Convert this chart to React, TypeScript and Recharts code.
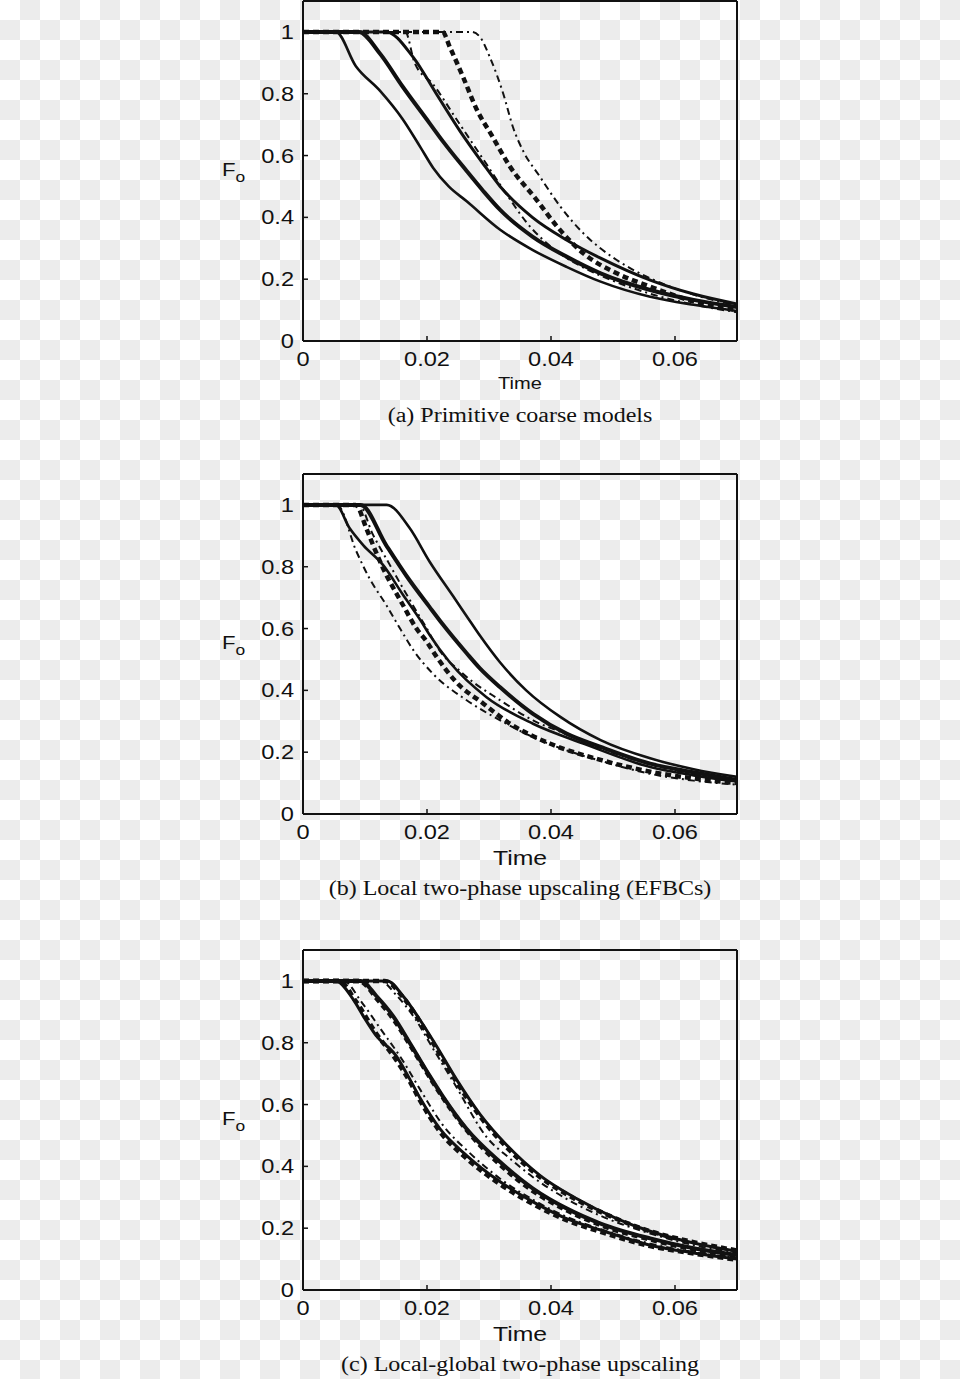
import React from "react";
import { LineChart, Line, XAxis, YAxis, Label } from "recharts";

type Pt = [number, number];

const timeTicks = [0, 0.02, 0.04, 0.06];
const topTicks = [0.02, 0.04, 0.06];
const foTicks = [0, 0.2, 0.4, 0.6, 0.8, 1];
const sideTicks = [0.2, 0.4, 0.6, 0.8, 1];

// (a) primitive coarse models  -- [time, Fo]
const aThin: Pt[] = [[0, 1], [0.0053, 1], [0.0085, 0.89], [0.0124, 0.81], [0.016, 0.72], [0.019, 0.625], [0.021, 0.56], [0.0235, 0.5], [0.0264, 0.452], [0.0318, 0.36], [0.037, 0.295], [0.0425, 0.24], [0.048, 0.192], [0.056, 0.143], [0.063, 0.117], [0.07, 0.097]];
const aThick: Pt[] = [[0, 1], [0.009, 1], [0.0124, 0.93], [0.016, 0.825], [0.0204, 0.705], [0.0226, 0.645], [0.0264, 0.55], [0.029, 0.487], [0.0318, 0.424], [0.037, 0.338], [0.0425, 0.273], [0.048, 0.219], [0.056, 0.165], [0.063, 0.133], [0.07, 0.11]];
const aMid: Pt[] = [[0, 1], [0.0134, 1], [0.0177, 0.92], [0.0215, 0.8], [0.0253, 0.68], [0.029, 0.575], [0.0318, 0.5], [0.037, 0.4], [0.0425, 0.327], [0.048, 0.268], [0.056, 0.197], [0.063, 0.152], [0.07, 0.12]];
const aDashDot: Pt[] = [[0, 1], [0.0165, 1], [0.018, 0.9], [0.021, 0.83], [0.025, 0.71], [0.029, 0.59], [0.033, 0.47], [0.036, 0.385], [0.0403, 0.3], [0.045, 0.24], [0.05, 0.195], [0.056, 0.153], [0.063, 0.118], [0.07, 0.093]];
const aDashed: Pt[] = [[0, 1], [0.0225, 1], [0.0237, 0.95], [0.0258, 0.855], [0.028, 0.75], [0.0306, 0.66], [0.0333, 0.567], [0.0377, 0.456], [0.041, 0.37], [0.0452, 0.284], [0.0506, 0.219], [0.056, 0.176], [0.063, 0.128], [0.07, 0.1]];
const aLate: Pt[] = [[0, 1], [0.0272, 1], [0.0285, 0.985], [0.0301, 0.92], [0.0323, 0.8], [0.0339, 0.69], [0.0355, 0.615], [0.0382, 0.532], [0.0415, 0.435], [0.0452, 0.349], [0.0506, 0.262], [0.056, 0.203], [0.063, 0.15], [0.07, 0.115]];

// (b) local two-phase upscaling (EFBCs)
const bLate: Pt[] = [[0, 1], [0.0135, 1], [0.0172, 0.925], [0.0204, 0.817], [0.0242, 0.705], [0.0264, 0.64], [0.0285, 0.578], [0.0318, 0.49], [0.036, 0.4], [0.0415, 0.314], [0.048, 0.239], [0.056, 0.18], [0.063, 0.145], [0.07, 0.12]];
const bThick: Pt[] = [[0, 1], [0.0093, 1], [0.0134, 0.87], [0.0167, 0.77], [0.0204, 0.67], [0.0226, 0.612], [0.0264, 0.52], [0.0285, 0.472], [0.0318, 0.41], [0.0371, 0.324], [0.0425, 0.26], [0.048, 0.217], [0.056, 0.163], [0.063, 0.135], [0.07, 0.11]];
const bThin: Pt[] = [[0, 1], [0.0053, 1], [0.0075, 0.925], [0.0097, 0.87], [0.0129, 0.806], [0.0161, 0.71], [0.019, 0.625], [0.0204, 0.58], [0.0237, 0.49], [0.0296, 0.378], [0.0371, 0.292], [0.0452, 0.228], [0.056, 0.152], [0.063, 0.125], [0.07, 0.105]];
const bDashDotLow: Pt[] = [[0, 1], [0.0055, 1], [0.0086, 0.85], [0.0107, 0.763], [0.0134, 0.677], [0.0158, 0.595], [0.0178, 0.53], [0.021, 0.453], [0.0264, 0.368], [0.0318, 0.303], [0.0371, 0.249], [0.0425, 0.206], [0.048, 0.172], [0.056, 0.13], [0.063, 0.108], [0.07, 0.095]];
const bDashed: Pt[] = [[0, 1], [0.0085, 1], [0.0102, 0.925], [0.0113, 0.87], [0.0129, 0.796], [0.0161, 0.677], [0.0183, 0.6], [0.0199, 0.559], [0.0215, 0.51], [0.0247, 0.427], [0.0291, 0.357], [0.0334, 0.292], [0.0398, 0.228], [0.048, 0.175], [0.056, 0.137], [0.063, 0.115], [0.07, 0.1]];
const bDashDot: Pt[] = [[0, 1], [0.009, 1], [0.0113, 0.903], [0.014, 0.806], [0.0161, 0.731], [0.0183, 0.656], [0.0204, 0.585], [0.0215, 0.545], [0.0258, 0.454], [0.0318, 0.368], [0.0371, 0.303], [0.0425, 0.258], [0.048, 0.213], [0.056, 0.16], [0.063, 0.13], [0.07, 0.108]];

// (c) local-global two-phase upscaling
const cLeft: Pt[] = [[0, 1], [0.0053, 1], [0.0081, 0.94], [0.0097, 0.887], [0.0118, 0.823], [0.015, 0.758], [0.0172, 0.683], [0.0189, 0.62], [0.0221, 0.521], [0.0264, 0.435], [0.0318, 0.35], [0.0371, 0.285], [0.0425, 0.231], [0.048, 0.194], [0.056, 0.145], [0.063, 0.12], [0.07, 0.1]];
const cLeftDashed: Pt[] = [[0, 1], [0.0058, 1], [0.0085, 0.935], [0.0118, 0.83], [0.015, 0.745], [0.0172, 0.675], [0.0189, 0.612], [0.0221, 0.512], [0.0264, 0.425], [0.0318, 0.342], [0.0371, 0.278], [0.0425, 0.226], [0.048, 0.188], [0.056, 0.142], [0.063, 0.118], [0.07, 0.098]];
const cLeftDashDot: Pt[] = [[0, 1], [0.0065, 1], [0.0095, 0.93], [0.0125, 0.845], [0.016, 0.745], [0.019, 0.645], [0.0225, 0.535], [0.0268, 0.445], [0.0318, 0.36], [0.0371, 0.292], [0.0425, 0.237], [0.048, 0.197], [0.056, 0.15], [0.063, 0.123], [0.07, 0.103]];
const cMid: Pt[] = [[0, 1], [0.0093, 1], [0.0118, 0.952], [0.0145, 0.887], [0.0172, 0.8], [0.0204, 0.694], [0.0226, 0.625], [0.0264, 0.521], [0.0318, 0.414], [0.0371, 0.328], [0.0425, 0.264], [0.048, 0.215], [0.056, 0.167], [0.063, 0.135], [0.07, 0.113]];
const cMidDashed: Pt[] = [[0, 1], [0.009, 1], [0.012, 0.94], [0.0148, 0.87], [0.0175, 0.785], [0.0207, 0.68], [0.0229, 0.612], [0.0267, 0.51], [0.0318, 0.405], [0.0371, 0.32], [0.0425, 0.258], [0.048, 0.21], [0.056, 0.163], [0.063, 0.132], [0.07, 0.11]];
const cRight: Pt[] = [[0, 1], [0.0136, 1], [0.0161, 0.952], [0.0188, 0.876], [0.0215, 0.79], [0.0247, 0.683], [0.0285, 0.57], [0.0328, 0.47], [0.0382, 0.371], [0.0441, 0.296], [0.0506, 0.231], [0.056, 0.19], [0.063, 0.152], [0.07, 0.125]];
const cRightDashDot: Pt[] = [[0, 1], [0.0125, 1], [0.015, 0.955], [0.018, 0.88], [0.021, 0.78], [0.0245, 0.665], [0.0296, 0.495], [0.0334, 0.425], [0.0371, 0.365], [0.0425, 0.295], [0.048, 0.24], [0.056, 0.183], [0.063, 0.145], [0.07, 0.12]];
const cRightDashed: Pt[] = [[0, 1], [0.0132, 1], [0.016, 0.95], [0.0188, 0.87], [0.0215, 0.782], [0.0247, 0.675], [0.0285, 0.563], [0.0328, 0.463], [0.0382, 0.366], [0.0441, 0.292], [0.0506, 0.23], [0.056, 0.19], [0.063, 0.155], [0.07, 0.128]];

// line looks
const styles: Record<string, { w: number; dash?: string }> = {
  thin: { w: 2.6 },
  mid: { w: 3 },
  thick: { w: 4 },
  dashdot: { w: 2, dash: "7 4 2 4" },
  dashed: { w: 4.5, dash: "6 4" },
};

const panels = [
  {
    top: 1,
    caption: "(a) Primitive coarse models",
    timeSize: 17,
    series: [
      { pts: aLate, kind: "dashdot" },
      { pts: aDashed, kind: "dashed" },
      { pts: aDashDot, kind: "dashdot" },
      { pts: aMid, kind: "mid" },
      { pts: aThick, kind: "thick" },
      { pts: aThin, kind: "thin" },
    ],
  },
  {
    top: 474,
    caption: "(b) Local two-phase upscaling (EFBCs)",
    timeSize: 21,
    series: [
      { pts: bDashDotLow, kind: "dashdot" },
      { pts: bDashed, kind: "dashed" },
      { pts: bDashDot, kind: "dashdot" },
      { pts: bThin, kind: "thin" },
      { pts: bThick, kind: "thick" },
      { pts: bLate, kind: "thin" },
    ],
  },
  {
    top: 950,
    caption: "(c) Local-global two-phase upscaling",
    timeSize: 21,
    series: [
      { pts: cLeftDashed, kind: "dashed" },
      { pts: cLeftDashDot, kind: "dashdot" },
      { pts: cMidDashed, kind: "dashed" },
      { pts: cRightDashDot, kind: "dashdot" },
      { pts: cRightDashed, kind: "dashed" },
      { pts: cLeft, kind: "mid" },
      { pts: cMid, kind: "thick" },
      { pts: cRight, kind: "mid" },
    ],
  },
];

const INK = "#111";
const SANS = "'Liberation Sans', Arial, sans-serif";
const SX = 1.18;

const toRows = (pts: Pt[]) => pts.map(([t, f]) => ({ t, f }));

function YTick(props: any) {
  const { x, y, payload } = props;
  return (
    <g transform={`translate(${x},${y}) scale(${SX},1)`}>
      <text textAnchor="end" dy="0.355em" fontSize={20} fontFamily={SANS} fill={INK}>
        {payload.value}
      </text>
    </g>
  );
}

function XTick(props: any) {
  const { x, y, payload } = props;
  return (
    <g transform={`translate(${x},${y}) scale(${SX},1)`}>
      <text textAnchor="middle" dy="0.71em" fontSize={20} fontFamily={SANS} fill={INK}>
        {payload.value}
      </text>
    </g>
  );
}

function Panel({ top, caption, timeSize, series }: any) {
  return (
    <>
      <div style={{ position: "absolute", left: 0, top: top - 10 }}>
        <LineChart width={960} height={410} margin={{ top: 9, right: 0, bottom: 0, left: 0 }}>
          <XAxis
            xAxisId="b"
            type="number"
            dataKey="t"
            domain={[0, 0.07]}
            ticks={timeTicks}
            allowDataOverflow
            height={60}
            tickSize={-5}
            tickMargin={16}
            tick={<XTick />}
            axisLine={{ stroke: INK, strokeWidth: 2 }}
            tickLine={{ stroke: INK, strokeWidth: 1.5 }}
          >
            <Label
              content={(p: any) => {
                const vb = p.viewBox;
                return (
                  <g transform={`translate(${vb.x + vb.width / 2},${vb.y + 36}) scale(${SX},1)`}>
                    <text textAnchor="middle" dy="0.71em" fontSize={timeSize} fontFamily={SANS} fill={INK}>
                      Time
                    </text>
                  </g>
                );
              }}
            />
          </XAxis>
          <XAxis
            xAxisId="top"
            orientation="top"
            type="number"
            domain={[0, 0.07]}
            ticks={topTicks}
            allowDataOverflow
            height={1}
            tickSize={-5}
            tick={false}
            axisLine={{ stroke: INK, strokeWidth: 2 }}
            tickLine={{ stroke: INK, strokeWidth: 1.5 }}
          />
          <YAxis
            yAxisId="l"
            type="number"
            domain={[0, 1.1]}
            ticks={foTicks}
            allowDataOverflow
            width={303}
            tickSize={-5}
            tickMargin={14}
            tick={<YTick />}
            axisLine={{ stroke: INK, strokeWidth: 2 }}
            tickLine={{ stroke: INK, strokeWidth: 1.5 }}
          >
            <Label
              content={(p: any) => {
                const vb = p.viewBox;
                const cy = vb.y + vb.height / 2;
                return (
                  <g transform={`translate(222,${cy + 5}) scale(1.2,1)`}>
                    <text fontSize={18.5} fontFamily={SANS} fill={INK}>
                      F
                      <tspan dy={6} fontSize={14.5}>o</tspan>
                    </text>
                  </g>
                );
              }}
            />
          </YAxis>
          <YAxis
            yAxisId="r"
            orientation="right"
            type="number"
            domain={[0, 1.1]}
            ticks={sideTicks}
            allowDataOverflow
            width={223}
            tickSize={-5}
            tick={false}
            axisLine={{ stroke: INK, strokeWidth: 2 }}
            tickLine={{ stroke: INK, strokeWidth: 1.5 }}
          />
          {series.map((s: any, i: number) => {
            const st = styles[s.kind];
            return (
              <Line
                key={i}
                xAxisId="b"
                yAxisId="l"
                data={toRows(s.pts)}
                dataKey="f"
                type="monotone"
                stroke={INK}
                strokeWidth={st.w}
                strokeDasharray={st.dash}
                dot={false}
                activeDot={false}
                isAnimationActive={false}
              />
            );
          })}
        </LineChart>
      </div>
      <div
        style={{
          position: "absolute",
          left: 0,
          width: 1040,
          top: top + 401,
          height: 26,
          lineHeight: "26px",
          textAlign: "center",
          fontFamily: "'Liberation Serif', 'Times New Roman', serif",
          fontSize: 20,
          color: INK,
          transform: "scaleX(1.2)",
          transformOrigin: "520px 0",
          whiteSpace: "nowrap",
        }}
      >
        {caption}
      </div>
    </>
  );
}

export default function App() {
  return (
    <div
      style={{
        position: "absolute",
        left: 0,
        top: 0,
        width: 960,
        height: 1379,
        overflow: "hidden",
        background: "repeating-conic-gradient(#ececec 0% 25%, #ffffff 0% 50%) 0 0 / 40px 40px",
      }}
    >
      {panels.map((p, i) => (
        <Panel key={i} {...p} />
      ))}
    </div>
  );
}
